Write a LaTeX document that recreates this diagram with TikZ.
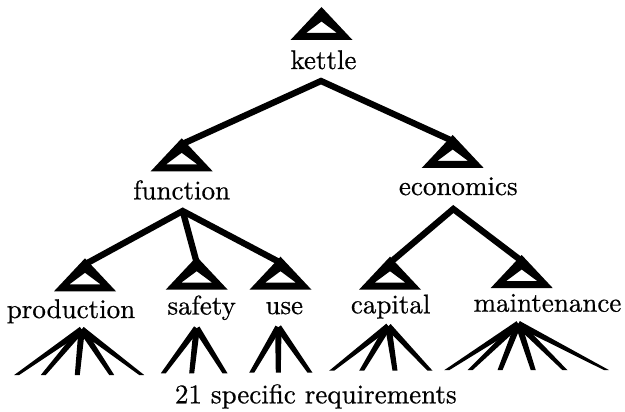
\documentclass[tikz,border=0pt]{standalone}
\usepackage{fontspec}
\newfontfamily\lblf{lmroman10-regular}[Extension=.otf, FakeBold=0.6]
\usetikzlibrary{calc}
\newcommand{\fanln}[2]{\fill ($(#1)!3.2pt!90:(#2)$) -- ($(#1)!3.2pt!-90:(#2)$) -- ([xshift=-2.5pt]#2) -- ([xshift=2.5pt]#2) -- cycle;}
\tikzset{
  tri/.pic={\fill[even odd rule] (0,0) -- (-31,33) -- (31,33) -- cycle (0,14.5) -- (-15.5,26) -- (15.5,26) -- cycle;
            \coordinate (-in) at (0,6);},
  lbl/.style={anchor=base, inner sep=0pt, font=\lblf\fontsize{27}{32}\selectfont},
  conn/.style={line width=6.3pt, miter limit=10, line join=miter}
}
\begin{document}
\begin{tikzpicture}[x=1pt,y=-1pt]
\useasboundingbox[fill=white] (0,0) rectangle (625,412);
% triangles
\pic (tk) at (321.5,7) {tri};
\pic (tf) at (181.7,138.3) {tri};
\pic (te) at (452.7,135) {tri};
\pic (tp) at (85,258.3) {tri};
\pic (ts) at (196.7,256.7) {tri};
\pic (tu) at (280.5,256.7) {tri};
\pic (tc) at (390,256.7) {tri};
\pic (tm) at (521.7,255) {tri};
% labels
\node[lbl] (kettle) at (323.5,69) {kettle};
\node[lbl] (function) at (181.7,199.3) {function};
\node[lbl] (economics) at (458.3,195) {economics};
\node[lbl] (production) at (71,318) {production};
\node[lbl] (safety) at (201.7,314.5) {safety};
\node[lbl] (use) at (284.3,314) {use};
\node[lbl] (capital) at (390.7,313.3) {capital};
\node[lbl] (maintenance) at (547.5,311.7) {maintenance};
\node[lbl] (req) at (315.8,403.3) {21 specific requirements};
% junctions
\coordinate (jk) at (321,81);
\coordinate (jf) at (182.7,211);
\coordinate (je) at (453.3,209);
% connectors
\draw[conn] (tf-in) -- (jk) -- (te-in);
\draw[conn] (tp-in) -- (jf) -- (tu-in);
\draw[conn] (jf) -- (ts-in);
\draw[conn] (tc-in) -- (je) -- (tm-in);
% fans
\coordinate (pa) at (81.7,329.5);
\foreach \i/\x in {1/16.7,2/43.3,3/77.3,4/111.7,5/141.7}{\coordinate (pe\i) at (\x,375); \fanln{pa}{pe\i}}
\coordinate (sa) at (196.7,328.2);
\foreach \i/\x in {1/163.3,2/191.7,3/225}{\coordinate (se\i) at (\x,373.3); \fanln{sa}{se\i}}
\coordinate (ua) at (278.3,327.2);
\foreach \i/\x in {1/251.7,2/278.3,3/310}{\coordinate (ue\i) at (\x,372.7); \fanln{ua}{ue\i}}
\coordinate (ca) at (388.3,326.2);
\foreach \i/\x in {1/331.7,2/361.7,3/395,4/430}{\coordinate (ce\i) at (\x,370.7); \fanln{ca}{ce\i}}
\coordinate (ma) at (518.3,323.9);
\foreach \i/\x in {1/446.7,2/470,3/500,4/533.3,5/565,6/606.7}{\coordinate (me\i) at (\x,370.2); \fanln{ma}{me\i}}
\end{tikzpicture}
\end{document}
